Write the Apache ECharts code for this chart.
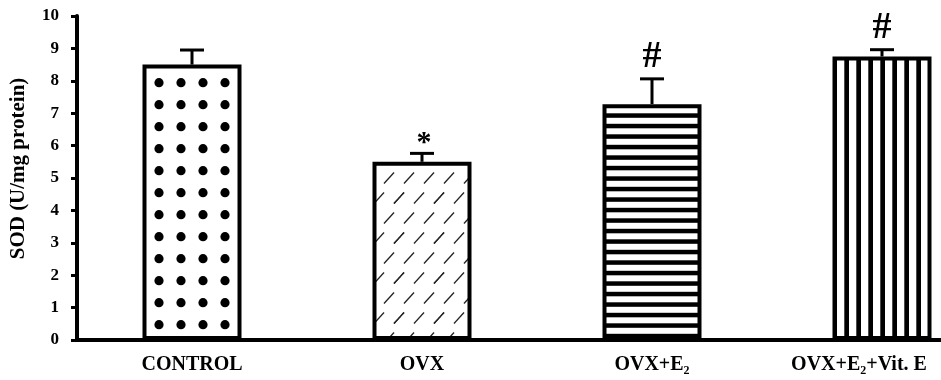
<!DOCTYPE html>
<html>
<head>
<meta charset="utf-8">
<script src="https://cdn.jsdelivr.net/npm/echarts@6/dist/echarts.min.js"></script>
<style>
html,body{margin:0;padding:0;background:#fff;}
#chart{width:941px;height:380px;}
</style>
</head>
<body>
<div id="chart"></div>
<script>
// ---- data ----
const categories = ['CONTROL', 'OVX', 'OVX+E\u2082', 'OVX+E\u2082+Vit. E'];
const sodMean = [8.5, 5.5, 7.28, 8.75];
const sodErr = [0.45, 0.26, 0.78, 0.21];
const markers = ['', '*', '#', '#'];
const yTicks = [0, 1, 2, 3, 4, 5, 6, 7, 8, 9, 10];

const FONT = '"Liberation Serif","Times New Roman",serif';

function tile(w, h, draw) {
  const c = document.createElement('canvas');
  c.width = w; c.height = h;
  const ctx = c.getContext('2d');
  ctx.fillStyle = '#fff';
  ctx.fillRect(0, 0, w, h);
  ctx.fillStyle = '#000';
  ctx.strokeStyle = '#000';
  draw(ctx, w, h);
  return c;
}
// dots
const dotTile = tile(22, 22, (ctx) => {
  for (const dx of [-22, 0, 22]) for (const dy of [-22, 0, 22]) {
    ctx.beginPath();
    ctx.arc(5 + dx, 16.7 + dy, 4.6, 0, Math.PI * 2);
    ctx.fill();
  }
});
// diagonal dashes
const dashTile = tile(40, 40, (ctx) => {
  ctx.lineWidth = 1.3;
  ctx.strokeStyle = '#222';
  const pts = [[9, 18], [29, 18], [19, 38], [39, 38], [-1, 38]];
  for (const [cx, cy] of pts) for (const dx of [-40, 0, 40]) for (const dy of [-40, 0, 40]) {
    ctx.beginPath();
    ctx.moveTo(cx + dx - 5, cy + dy + 5.5);
    ctx.lineTo(cx + dx + 5, cy + dy - 5.5);
    ctx.stroke();
  }
});
// horizontal stripes
const hTile = tile(4, 21, (ctx, w) => {
  for (const y of [8.3, 18.8, -2.2]) ctx.fillRect(0, y, w, 4.5);
});
// vertical stripes
const vTile = tile(12, 4, (ctx, w, h) => {
  for (const x of [4.3, -7.7]) ctx.fillRect(x, 0, 4.7, h);
});
const patterns = [dotTile, dashTile, hTile, vTile];

const chart = echarts.init(document.getElementById('chart'), null, {renderer: 'canvas'});
chart.setOption({
  animation: false,
  backgroundColor: '#fff',
  grid: {left: 77, top: 16, width: 920, height: 324, containLabel: false, outerBoundsMode: 'none'},
  xAxis: {
    type: 'category',
    data: categories.map((c, i) => i === 3 ? {value: c, textStyle: {padding: [0, 46, 0, 0]}} : c),
    axisLine: {lineStyle: {color: '#000', width: 4}},
    axisTick: {show: false},
    axisLabel: {interval: 0, color: '#000', fontFamily: FONT, fontWeight: 'bold', fontSize: 20, margin: 15}
  },
  yAxis: {
    type: 'value',
    min: yTicks[0], max: yTicks[yTicks.length - 1], interval: 1,
    name: 'SOD (U/mg protein)',
    nameLocation: 'middle',
    nameGap: 48,
    nameTextStyle: {color: '#000', fontFamily: FONT, fontWeight: 'bold', fontSize: 21, padding: [0, 0, 0, 19]},
    axisLine: {show: true, lineStyle: {color: '#000', width: 4}},
    axisTick: {show: true, length: 6, lineStyle: {color: '#000', width: 3}},
    splitLine: {show: false},
    axisLabel: {color: '#000', fontFamily: FONT, fontWeight: 'bold', fontSize: 17, margin: 18}
  },
  series: [
    {
      type: 'bar',
      barWidth: 99,
      data: sodMean.map((v, i) => ({
        value: v,
        itemStyle: {color: {image: patterns[i], repeat: 'repeat'}, borderColor: '#000', borderWidth: 4}
      })),
      z: 2
    },
    {
      type: 'custom',
      z: 5,
      encode: {x: 0, y: 1},
      data: sodMean.map((v, i) => [i, v, sodErr[i]]),
      renderItem: function (params, api) {
        const i = api.value(0), m = api.value(1), e = api.value(2);
        const base = api.coord([i, m]);
        const top = api.coord([i, m + e]);
        const x = base[0];
        const children = [
          {type: 'line', shape: {x1: x, y1: base[1], x2: x, y2: top[1]}, style: {stroke: '#000', lineWidth: 3}},
          {type: 'line', shape: {x1: x - 12, y1: top[1], x2: x + 12, y2: top[1]}, style: {stroke: '#000', lineWidth: 3}}
        ];
        const mk = markers[params.dataIndex];
        if (mk === '*') {
          children.push({type: 'text', style: {text: mk, x: x + 2, y: top[1] - 10, align: 'center', verticalAlign: 'middle',
            font: 'bold 30px ' + FONT, fill: '#000'}});
        } else if (mk) {
          children.push({type: 'text', style: {text: mk, x: x, y: top[1] - 22, align: 'center', verticalAlign: 'middle',
            font: 'bold 38px ' + FONT, fill: '#000'}});
        }
        return {type: 'group', children: children};
      }
    }
  ]
});
</script>
</body>
</html>
